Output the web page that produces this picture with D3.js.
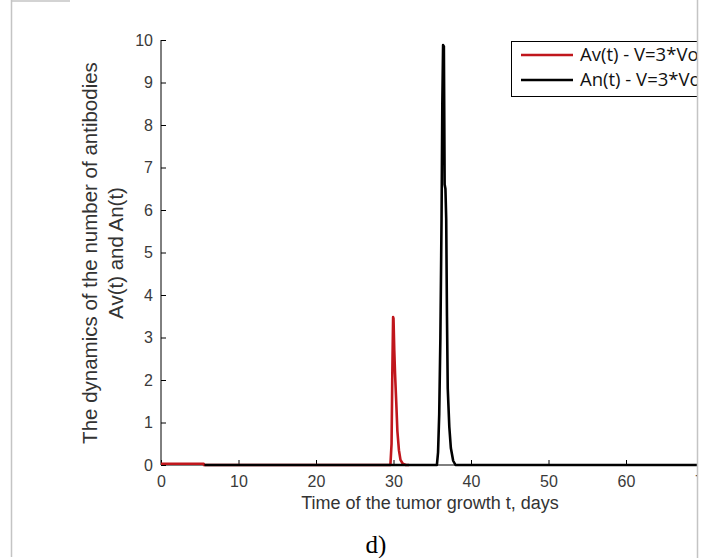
<!DOCTYPE html>
<html>
<head>
<meta charset="utf-8">
<script src="https://cdn.jsdelivr.net/npm/d3@7"></script>
<style>
  body { margin: 0; background: #fff; }
  svg { display: block; }
</style>
</head>
<body>
<div id="chart"></div>
<script>
// Data
const timeAv = [0, 5.5, 5.55, 29.6, 29.75, 29.85, 29.95, 30.0, 30.1, 30.2, 30.35, 30.5, 30.7, 30.9, 31.2, 31.6, 32];
const valueAv = [0.03, 0.03, 0, 0, 0.5, 2.2, 3.48, 3.45, 2.7, 2.15, 1.5, 0.8, 0.35, 0.12, 0.03, 0, 0];

const timeAn = [5.6, 35.6, 35.75, 35.9, 36.05, 36.2, 36.3, 36.4, 36.5, 36.6, 36.7, 36.8, 36.9, 37.0, 37.2, 37.4, 37.7, 38, 80];
const valueAn = [0, 0, 0.3, 1.2, 3.0, 5.8, 8.5, 9.88, 9.85, 6.6, 6.5, 5.8, 3.5, 1.8, 0.9, 0.4, 0.1, 0, 0];

const xTicks = [0, 10, 20, 30, 40, 50, 60, 70];
const yTicks = [0, 1, 2, 3, 4, 5, 6, 7, 8, 9, 10];
const legendLabels = ["Av(t) - V=3*Vo", "An(t) - V=3*Vo"];
const colors = ["#c0161c", "#000000"];

const W = 705, H = 558;
const clipRight = 697;

const svg = d3.select("#chart")
  .append("svg")
  .attr("width", W)
  .attr("height", H);

svg.append("defs").append("clipPath")
  .attr("id", "page")
  .append("rect")
  .attr("x", 0).attr("y", 0)
  .attr("width", clipRight).attr("height", H);

const g = svg.append("g").attr("clip-path", "url(#page)");

// scales
const x = d3.scaleLinear().domain([0, 80]).range([161, 161 + 620]);
const y = d3.scaleLinear().domain([0, 10]).range([465, 40]);

// page frame fragments
svg.append("line")
  .attr("x1", 11.5).attr("y1", 0).attr("x2", 11.5).attr("y2", 557)
  .style("stroke", "#c4c4c4").style("stroke-width", 1.5);
svg.append("line")
  .attr("x1", 11).attr("y1", 1).attr("x2", 70).attr("y2", 1)
  .style("stroke", "#c4c4c4").style("stroke-width", 1.5);
svg.append("line")
  .attr("x1", clipRight + 0.5).attr("y1", 0).attr("x2", clipRight + 0.5).attr("y2", H)
  .style("stroke", "#c4c4c4").style("stroke-width", 1.5);

// axes
const xAxis = d3.axisBottom(x)
  .tickValues(xTicks)
  .tickSize(-5)
  .tickPadding(11)
  .tickFormat(d3.format("d"));

const yAxis = d3.axisLeft(y)
  .tickValues(yTicks)
  .tickSize(-5)
  .tickPadding(8)
  .tickFormat(d3.format("d"));

const gx = g.append("g")
  .attr("transform", "translate(0," + y(0) + ")")
  .call(xAxis);
gx.select(".domain").remove();
gx.append("line")
  .attr("x1", x(0)).attr("x2", 800)
  .attr("y1", 0).attr("y2", 0)
  .style("stroke", "#000").style("stroke-width", 1);

const gy = g.append("g")
  .attr("transform", "translate(" + x(0) + ",0)")
  .call(yAxis);
gy.select(".domain").remove();
gy.append("line")
  .attr("x1", 0).attr("x2", 0)
  .attr("y1", y(0)).attr("y2", y(10))
  .style("stroke", "#000").style("stroke-width", 1);

g.selectAll(".tick line").style("stroke", "#000");
g.selectAll(".tick text")
  .attr("font-size", null)
  .style("font-family", "Liberation Sans, Arial, sans-serif")
  .style("font-size", "16px")
  .style("fill", "#3a3a3a");

// curves
const line = d3.line()
  .x(d => x(d[0]))
  .y(d => y(d[1]));

const avData = timeAv.map((t, i) => [t, valueAv[i]]);
const anData = timeAn.map((t, i) => [t, valueAn[i]]);

g.append("path")
  .datum(avData)
  .attr("d", line)
  .style("fill", "none")
  .style("stroke", colors[0])
  .style("stroke-width", 2.6)
  .style("stroke-linejoin", "round");

g.append("path")
  .datum(anData)
  .attr("d", line)
  .style("fill", "none")
  .style("stroke", colors[1])
  .style("stroke-width", 2.6)
  .style("stroke-linejoin", "round");

// axis labels
g.append("text")
  .attr("transform", "translate(430," + 509 + ")")
  .style("text-anchor", "middle")
  .style("font-family", "Liberation Sans, Arial, sans-serif")
  .style("font-size", "18px")
  .style("fill", "#333")
  .text("Time of the tumor growth t, days");

const yl = g.append("text")
  .attr("transform", "translate(97," + 253 + ") rotate(-90)")
  .style("text-anchor", "middle")
  .style("font-family", "Liberation Sans, Arial, sans-serif")
  .style("font-size", "20.5px")
  .style("fill", "#333");
yl.append("tspan").attr("x", 0).attr("dy", 0).text("The dynamics of the number of antibodies");
yl.append("tspan").attr("x", 0).attr("dy", 26).text("Av(t) and An(t)");

// legend
const legend = g.append("g");
legend.append("rect")
  .attr("x", 511.5).attr("y", 41.5)
  .attr("width", 230).attr("height", 55)
  .style("fill", "#fff")
  .style("stroke", "#000")
  .style("stroke-width", 1);

legendLabels.forEach((label, i) => {
  const ly = 55 + i * 25;
  legend.append("line")
    .attr("x1", 521).attr("x2", 573)
    .attr("y1", ly).attr("y2", ly)
    .style("stroke", colors[i])
    .style("stroke-width", 2.4);
  legend.append("text")
    .attr("x", 580).attr("y", ly)
    .attr("dy", "0.35em")
    .style("font-family", "Open Sans, sans-serif")
    .style("font-size", "18.5px")
    .style("fill", "#111")
    .text(label);
});

// panel caption
svg.append("text")
  .attr("x", 376).attr("y", 553)
  .style("text-anchor", "middle")
  .style("font-family", "Liberation Serif, Times New Roman, serif")
  .style("font-size", "25px")
  .style("fill", "#000")
  .text("d)");
</script>
</body>
</html>
